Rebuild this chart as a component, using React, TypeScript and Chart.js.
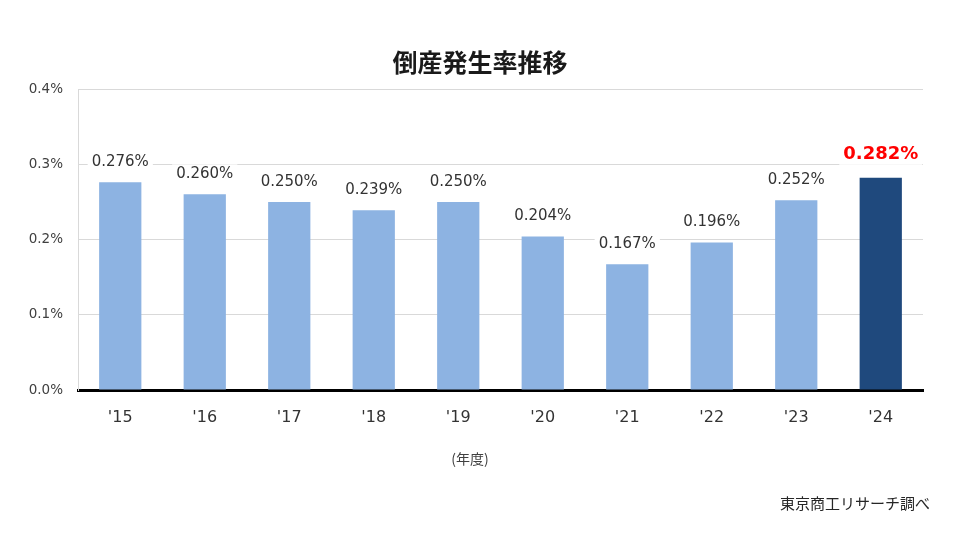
import React, { useEffect, useRef } from 'react';
import { Chart, registerables } from 'chart.js';

Chart.register(...registerables);

const years = ["'15", "'16", "'17", "'18", "'19", "'20", "'21", "'22", "'23", "'24"];
const rates = [0.276, 0.26, 0.25, 0.239, 0.25, 0.204, 0.167, 0.196, 0.252, 0.282];
const yTicks = [0, 0.1, 0.2, 0.3, 0.4];

const TITLE = '倒産発生率推移';
const X_TITLE = '(年度)';
const SOURCE = '東京商工リサーチ調べ';

const FONT = '"DejaVu Sans", "Noto Sans CJK JP", sans-serif';
const JP_FONT = '"Noto Sans CJK JP", sans-serif';

const lastIdx = rates.length - 1;

const labelPlugin = {
  id: 'barLabels',
  afterDatasetsDraw(chart: Chart) {
    const { ctx } = chart;
    const meta = chart.getDatasetMeta(0);
    ctx.save();
    ctx.textAlign = 'center';
    ctx.textBaseline = 'middle';
    meta.data.forEach((bar: any, i: number) => {
      const last = i === lastIdx;
      const text = rates[i].toFixed(3) + '%';
      ctx.font = last ? `bold 18px ${FONT}` : `15px ${FONT}`;
      const y = bar.y - (last ? 23 : 20);
      const w = ctx.measureText(text).width;
      ctx.fillStyle = '#ffffff';
      ctx.fillRect(bar.x - w / 2 - 4, y - 10, w + 8, 20);
      ctx.fillStyle = last ? '#ff0000' : '#333333';
      ctx.fillText(text, bar.x, y);
    });
    ctx.restore();
  },
};

const textPlugin = {
  id: 'extraText',
  afterDraw(chart: Chart) {
    const { ctx } = chart;
    ctx.save();
    ctx.textBaseline = 'middle';
    ctx.fillStyle = '#1a1a1a';
    ctx.textAlign = 'center';
    ctx.font = `bold 25px ${JP_FONT}`;
    ctx.fillText(TITLE, 480, 62);
    ctx.fillStyle = '#404040';
    ctx.font = `14px ${JP_FONT}`;
    ctx.fillText(X_TITLE, 470, 459);
    ctx.textAlign = 'right';
    ctx.fillStyle = '#262626';
    ctx.font = `15px ${JP_FONT}`;
    ctx.fillText(SOURCE, 930, 503);
    ctx.restore();
  },
};

const RateChart: React.FC = () => {
  const chartRef = useRef<HTMLCanvasElement>(null);
  const chartInstance = useRef<Chart | null>(null);

  useEffect(() => {
    if (!chartRef.current) return;
    if (chartInstance.current) chartInstance.current.destroy();
    const ctx = chartRef.current.getContext('2d');
    if (!ctx) return;

    chartInstance.current = new Chart(ctx, {
      type: 'bar',
      data: {
        labels: years,
        datasets: [
          {
            data: rates,
            backgroundColor: rates.map((_, i) => (i === lastIdx ? '#1f497d' : '#8db3e2')),
            categoryPercentage: 1,
            barPercentage: 0.5,
          },
        ],
      },
      options: {
        responsive: true,
        maintainAspectRatio: false,
        animation: false,
        layout: { padding: { top: 89, right: 37, left: 0, bottom: 0 } },
        plugins: {
          legend: { display: false },
          tooltip: { enabled: false },
        },
        scales: {
          x: {
            grid: { display: false, drawTicks: false },
            border: { display: true, color: '#000000', width: 3 },
            ticks: {
              padding: 18,
              color: '#333333',
              font: { size: 16, family: FONT },
            },
            afterFit: (scale: any) => {
              scale.height = 160;
            },
          },
          y: {
            min: 0,
            max: 0.4,
            afterBuildTicks: (scale: any) => {
              scale.ticks = yTicks.map((v) => ({ value: v }));
            },
            grid: { color: '#d9d9d9', drawTicks: false },
            border: { display: true, color: '#d9d9d9', width: 1 },
            ticks: {
              padding: 15,
              color: '#404040',
              font: { size: 13.5, family: FONT },
              callback: (v) => Number(v).toFixed(1) + '%',
            },
            afterFit: (scale: any) => {
              scale.width = 78;
            },
          },
        },
      },
      plugins: [labelPlugin, textPlugin],
    });

    return () => {
      if (chartInstance.current) {
        chartInstance.current.destroy();
        chartInstance.current = null;
      }
    };
  }, []);

  return (
    <div style={{ width: 960, height: 550, position: 'relative', background: '#ffffff' }}>
      <canvas ref={chartRef}></canvas>
    </div>
  );
};

export default function App() {
  useEffect(() => {
    document.body.style.margin = '0';
  }, []);
  return <RateChart />;
}
